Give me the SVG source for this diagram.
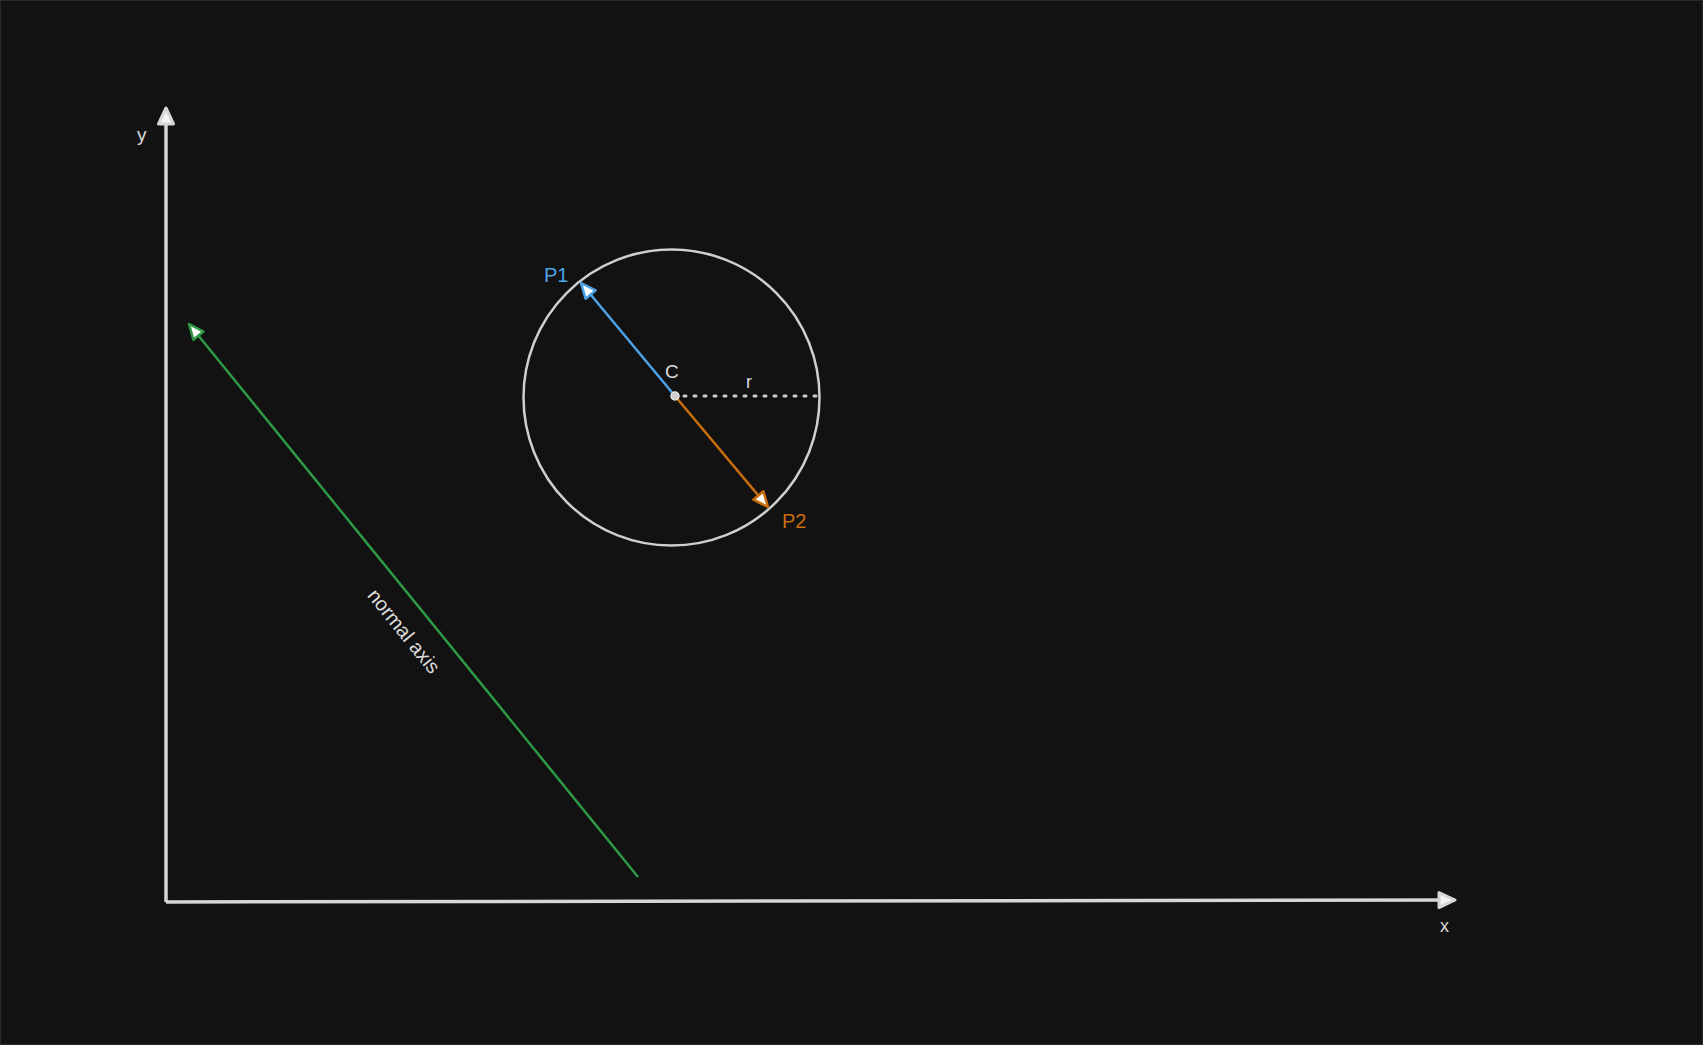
<svg xmlns="http://www.w3.org/2000/svg" width="1703" height="1045" viewBox="0 0 1703 1045">
<style>
.lbl{font-family:"Liberation Sans",Arial,sans-serif;}
.wt{fill:#dcdcdc;}
</style>
<defs>
<marker id="axhead" markerUnits="userSpaceOnUse" markerWidth="24" markerHeight="24" refX="18" refY="9" orient="auto">
<path d="M2,1.5 L18,9 L2,16.5 z" fill="#f2f2f2" stroke="#d6d6d6" stroke-width="3" stroke-linejoin="round"/>
</marker>
<marker id="hblue" markerUnits="userSpaceOnUse" markerWidth="22" markerHeight="22" refX="17" refY="9" orient="auto">
<path d="M2,2.5 L17,9 L2,15.5 z" fill="#ffffff" stroke="#4da3e8" stroke-width="2.5" stroke-linejoin="round"/>
</marker>
<marker id="horange" markerUnits="userSpaceOnUse" markerWidth="22" markerHeight="22" refX="17" refY="9" orient="auto">
<path d="M2,2.5 L17,9 L2,15.5 z" fill="#ffffff" stroke="#c96d0c" stroke-width="2.5" stroke-linejoin="round"/>
</marker>
<marker id="hgreen" markerUnits="userSpaceOnUse" markerWidth="22" markerHeight="22" refX="17" refY="9" orient="auto">
<path d="M2,2.5 L17,9 L2,15.5 z" fill="#ffffff" stroke="#2f9a45" stroke-width="2.5" stroke-linejoin="round"/>
</marker>
</defs>
<rect x="0" y="0" width="1703" height="1045" fill="#121212"/>
<rect x="0.5" y="0.5" width="1702" height="1044" fill="none" stroke="#2a2a2a" stroke-width="1"/>

<g id="circle">
<circle cx="671.5" cy="397.5" r="148" fill="none" stroke="#cfcfcf" stroke-width="2.5"/>
</g>

<g id="connectors">
<line id="y-axis" x1="166" y1="902" x2="166" y2="108" stroke="#d6d6d6" stroke-width="3.5" marker-end="url(#axhead)"/>
<line id="x-axis" x1="166" y1="902" x2="1455" y2="900" stroke="#d6d6d6" stroke-width="3.5" marker-end="url(#axhead)"/>
<line id="normal" x1="638" y1="877" x2="189" y2="324" stroke="#2f9a45" stroke-width="2.5" marker-end="url(#hgreen)"/>
<line id="to-p1" x1="675" y1="396" x2="581" y2="283" stroke="#4da3e8" stroke-width="2.5" marker-end="url(#hblue)"/>
<line id="to-p2" x1="675" y1="396" x2="768" y2="507" stroke="#c96d0c" stroke-width="2.5" marker-end="url(#horange)"/>
<line id="radius" x1="684" y1="396" x2="818" y2="396" stroke="#cfcfcf" stroke-width="3" stroke-dasharray="2 8" stroke-linecap="round"/>
</g>

<g id="center">
<circle cx="675" cy="396" r="4" fill="#cfcfcf" stroke="#e6e6e6" stroke-width="1.5"/>
<text class="lbl wt" x="665" y="378" font-size="19">C</text>
</g>
<g id="label-r"><text class="lbl wt" x="746" y="388" font-size="18">r</text></g>
<g id="label-p1"><text class="lbl" x="544" y="282" font-size="20" fill="#4da3e8">P1</text></g>
<g id="label-p2"><text class="lbl" x="782" y="528" font-size="20" fill="#c96d0c">P2</text></g>
<g id="label-y"><text class="lbl wt" x="137" y="141" font-size="19">y</text></g>
<g id="label-x"><text class="lbl wt" x="1440" y="932" font-size="18">x</text></g>
<g id="label-normal"><text class="lbl wt" x="404" y="631" font-size="20" text-anchor="middle" dominant-baseline="central" transform="rotate(51 404 631)">normal axis</text></g>
</svg>
